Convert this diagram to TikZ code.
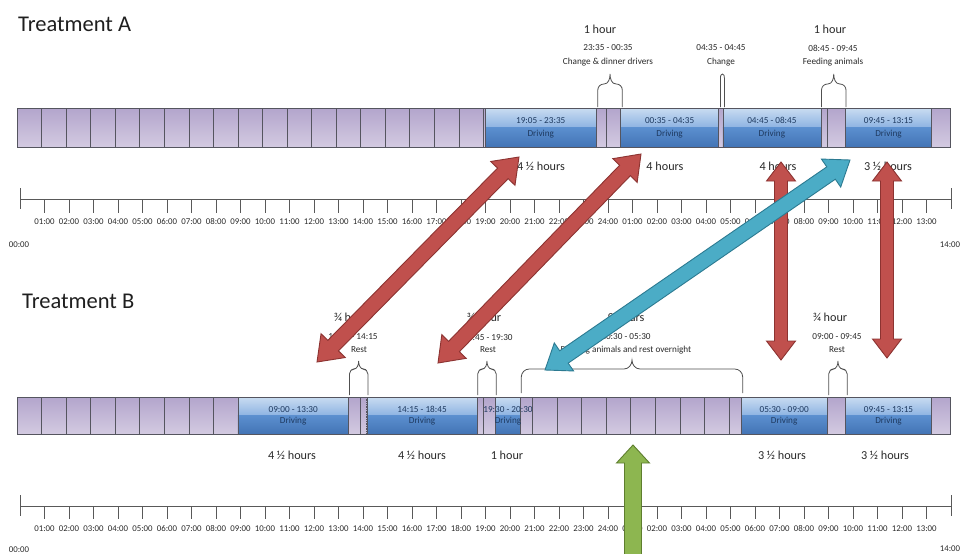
\documentclass[tikz,border=0pt]{standalone}
\usepackage{fontspec}
\setmainfont{Carlito}
\usetikzlibrary{calc}
\definecolor{lavtop}{HTML}{B3A5CC}
\definecolor{lavbot}{HTML}{D3CAE1}
\definecolor{cellline}{HTML}{55555F}
\definecolor{drvA}{HTML}{C9DCF1}
\definecolor{drvB}{HTML}{8DB3E2}
\definecolor{drvC}{HTML}{5B8FCF}
\definecolor{drvD}{HTML}{4374B5}
\definecolor{drvtxt}{HTML}{1F3A60}
\definecolor{redF}{HTML}{C0504D}
\definecolor{redD}{HTML}{8C3331}
\definecolor{bluF}{HTML}{4BACC6}
\definecolor{bluD}{HTML}{2C7A91}
\definecolor{grnF}{HTML}{8DB650}
\definecolor{grnD}{HTML}{5E7E2E}
\definecolor{txtg}{HTML}{2A2A2A}
\definecolor{bracecol}{HTML}{505050}

\newcommand{\hxpos}[1]{17+24.55*#1}
% drive box: name, h1, h2, ytop, ybot, time text
\newcommand{\drvbox}[6]{%
  \path[shade, top color=drvA, bottom color=drvB] ({\hxpos{#2}},#4) rectangle ({\hxpos{#3}},{(#4+#5)/2});
  \path[shade, top color=drvC, bottom color=drvD] ({\hxpos{#2}},{(#4+#5)/2}) rectangle ({\hxpos{#3}},#5);
  \draw[cellline, line width=0.5pt] ({\hxpos{#2}},#4) rectangle ({\hxpos{#3}},#5);
  \node[drvlbl] (#1t) at ({(\hxpos{#2}+\hxpos{#3})/2},{#4+12.5}) {#6};
  \node[drvlbl] (#1d) at ({(\hxpos{#2}+\hxpos{#3})/2},{#5-12.5}) {Driving};
}
% arch brace: xl, xr, ybottom, ycorner, radius, peak height
\newcommand{\archbrace}[6]{%
  \pgfmathsetmacro{\abXm}{(#1+#2)/2}%
  \pgfmathsetmacro{\abXa}{#1+#5}%
  \pgfmathsetmacro{\abXb}{\abXm-#5}%
  \pgfmathsetmacro{\abXc}{\abXm+#5}%
  \pgfmathsetmacro{\abXd}{#2-#5}%
  \pgfmathsetmacro{\abYs}{#4+#5}%
  \pgfmathsetmacro{\abYp}{#4-#6}%
  \draw[bracestyle] (#1,#3) -- (#1,\abYs) to[out=90,in=180] (\abXa,#4)
    -- (\abXb,#4) to[out=0,in=-90] (\abXm,\abYp)
    to[out=-90,in=180] (\abXc,#4) -- (\abXd,#4)
    to[out=0,in=90] (#2,\abYs) -- (#2,#3);
}
% double-headed block arrow: style, from, to, shaft half, head half, head length
\newcommand{\blockarr}[6]{%
  \draw[#1] (#2) -- ($(#2)!#6!(#3)!#5!90:(#3)$) -- ($(#2)!#6!(#3)!#4!90:(#3)$)
    -- ($(#3)!#6!(#2)!#4!-90:(#2)$) -- ($(#3)!#6!(#2)!#5!-90:(#2)$) -- (#3)
    -- ($(#3)!#6!(#2)!#5!90:(#2)$) -- ($(#3)!#6!(#2)!#4!90:(#2)$)
    -- ($(#2)!#6!(#3)!#4!-90:(#3)$) -- ($(#2)!#6!(#3)!#5!-90:(#3)$) -- cycle;
}
% single-headed block arrow: style, tip, tail, shaft half, head half, head length
\newcommand{\singlearr}[6]{%
  \draw[#1] (#2) -- ($(#2)!#6!(#3)!#5!90:(#3)$) -- ($(#2)!#6!(#3)!#4!90:(#3)$)
    -- ($(#3)!#4!-90:(#2)$) -- ($(#3)!#4!90:(#2)$)
    -- ($(#2)!#6!(#3)!#4!-90:(#3)$) -- ($(#2)!#6!(#3)!#5!-90:(#3)$) -- cycle;
}

\begin{document}
\begin{tikzpicture}[x=1pt,y=-1pt,
  titlelbl/.style={font=\fontsize{22.5}{25}\selectfont, text=black!88, inner sep=0pt},
  hourlbl/.style={font=\fontsize{12.2}{14}\selectfont, text=txtg, inner sep=0pt},
  smalllbl/.style={font=\fontsize{9.2}{11}\selectfont, text=txtg, inner sep=0pt},
  drvlbl/.style={font=\fontsize{9.2}{11}\selectfont, text=drvtxt, inner sep=0pt},
  ticklbl/.style={font=\fontsize{8.8}{10}\selectfont, text=txtg, inner sep=0pt},
  purplecell/.style={shade, top color=lavtop, bottom color=lavbot},
  cellline/.style={draw=cellline, line width=0.7pt},
  bracestyle/.style={draw=bracecol, line width=0.8pt},
  tl/.style={draw=black!65, line width=0.7pt},
  redarrow/.style={fill=redF, draw=redD, line width=0.9pt, line join=miter},
  bluearrow/.style={fill=bluF, draw=bluD, line width=0.9pt, line join=miter},
  greenarrow/.style={fill=grnF, draw=grnD, line width=0.9pt, line join=miter}]

\useasboundingbox (0,0) rectangle (962,554);
\fill[white] (0,0) rectangle (962,554);

% ---------- titles
\node[titlelbl, anchor=base west] (titleA) at (18,31) {Treatment A};
\node[titlelbl, anchor=base west] (titleB) at (22,308) {Treatment B};

% ---------- bar A
\path[purplecell] ({\hxpos{0}},108) rectangle ({\hxpos{38}},147);
\drvbox{dA1}{19.0833}{23.5833}{108}{147}{19:05 - 23:35}
\drvbox{dA2}{24.5833}{28.5833}{108}{147}{00:35 - 04:35}
\drvbox{dA3}{28.75}{32.75}{108}{147}{04:45 - 08:45}
\drvbox{dA4}{33.75}{37.25}{108}{147}{09:45 - 13:15}
\foreach \h in {1,...,19,24,33}
  \draw[cellline] ({\hxpos{\h}},108) -- ({\hxpos{\h}},147);
\draw[cellline] ({\hxpos{0}},108) rectangle ({\hxpos{38}},147);

% braces A
\archbrace{597.8}{622.3}{107}{84}{6}{10}
\draw[bracestyle] (720.4,107) -- (720.4,78) to[out=90,in=180] (722.4,74) to[out=0,in=90] (724.4,78) -- (724.4,107);
\archbrace{821.5}{846.0}{107}{84}{6}{10}

% labels above A
\node[hourlbl] (hA1) at (600,29) {1 hour};
\node[smalllbl] (tA1) at (608,48) {23:35 - 00:35};
\node[smalllbl] (nA1) at (608,62) {Change \& dinner drivers};
\node[smalllbl] (tA2) at (721,48) {04:35 - 04:45};
\node[smalllbl] (nA2) at (721,62) {Change};
\node[hourlbl] (hA2) at (830,29) {1 hour};
\node[smalllbl] (tA3) at (833,48) {08:45 - 09:45};
\node[smalllbl] (nA3) at (833,62) {Feeding animals};

% labels below A
\node[hourlbl] (dur1) at (541,166) {4 ½ hours};
\node[hourlbl] (dur2) at (665,166) {4 hours};
\node[hourlbl] (dur3) at (778,166) {4 hours};
\node[hourlbl] (dur4) at (888,166) {3 ½ hours};

% ---------- timeline A
\draw[tl] (20,199) coordinate (tlA0) -- (951,199) coordinate (tlA1);
\draw[tl] (20,188) -- (20,209);
\draw[tl] (951,188) -- (951,209);
\foreach \h in {1,...,37}{
  \draw[tl] ({20+24.5*\h},199) -- ({20+24.5*\h},213);
  \pgfmathtruncatemacro{\lab}{\h>24 ? \h-24 : \h}
  \node[ticklbl] (tka\h) at ({20+24.5*\h},222) {\ifnum\lab<10 0\fi\lab:00};
}
\node[ticklbl] (tkaS) at (19,245) {00:00};
\node[ticklbl] (tkaE) at (950,245) {14:00};

% ---------- bar B
\path[purplecell] ({\hxpos{0}},397) rectangle ({\hxpos{38}},434);
\drvbox{dB1}{9}{13.5}{397}{434}{09:00 - 13:30}
\drvbox{dB2}{14.25}{18.75}{397}{434}{14:15 - 18:45}
\drvbox{dB3}{19.5}{20.5}{397}{434}{19:30 - 20:30}
\drvbox{dB4}{29.5}{33}{397}{434}{05:30 - 09:00}
\drvbox{dB5}{33.75}{37.25}{397}{434}{09:45 - 13:15}
\foreach \h in {1,...,8,14,19,21,22,...,29}
  \draw[cellline] ({\hxpos{\h}},397) -- ({\hxpos{\h}},434);
\draw[cellline, densely dotted] ({\hxpos{14.25}},397) -- ({\hxpos{14.25}},434);
\draw[cellline, densely dotted] ({\hxpos{18.75}},397) -- ({\hxpos{18.75}},434);
\draw[cellline] ({\hxpos{0}},397) rectangle ({\hxpos{38}},434);

% braces B
\archbrace{349.4}{367.9}{395}{369}{5}{8}
\archbrace{477.7}{496.2}{395}{369}{5}{8}
\archbrace{521.3}{742.7}{393}{369}{8}{9}
\archbrace{828.7}{847.2}{395}{369}{5}{8}

% labels above B
\node[hourlbl] (hB1) at (351,317) {¾ hour};
\node[smalllbl] (tB1) at (353,337) {13:30 - 14:15};
\node[smalllbl] (nB1) at (359,350) {Rest};
\node[hourlbl] (hB2) at (484,317) {¾ hour};
\node[smalllbl] (tB2) at (488,337) {18:45 - 19:30};
\node[smalllbl] (nB2) at (488,350) {Rest};
\node[hourlbl] (hB3) at (626,317) {9 hours};
\node[smalllbl] (tB3) at (626,337) {20:30 - 05:30};
\node[smalllbl] (nB3) at (626,350) {Feeding animals and rest overnight};
\node[hourlbl] (hB4) at (830,317) {¾ hour};
\node[smalllbl] (tB4) at (837,337) {09:00 - 09:45};
\node[smalllbl] (nB4) at (837,350) {Rest};

% labels below B
\node[hourlbl] (durB1) at (292,455) {4 ½ hours};
\node[hourlbl] (durB2) at (422,455) {4 ½ hours};
\node[hourlbl] (durB3) at (507,455) {1 hour};
\node[hourlbl] (durB4) at (782,455) {3 ½ hours};
\node[hourlbl] (durB5) at (885,455) {3 ½ hours};

% ---------- timeline B
\draw[tl] (20,506) coordinate (tlB0) -- (951,506) coordinate (tlB1);
\draw[tl] (20,495) -- (20,516);
\draw[tl] (951,495) -- (951,516);
\foreach \h in {1,...,37}{
  \draw[tl] ({20+24.5*\h},506) -- ({20+24.5*\h},519);
  \pgfmathtruncatemacro{\lab}{\h>24 ? \h-24 : \h}
  \node[ticklbl] (tkb\h) at ({20+24.5*\h},529) {\ifnum\lab<10 0\fi\lab:00};
}
\node[ticklbl] (tkbS) at (19,550) {00:00};
\node[ticklbl] (tkbE) at (950,549) {14:00};

% ---------- arrows
\coordinate (r1a) at (317,362);
\coordinate (r1b) at (519,157);
\coordinate (r2a) at (438,363);
\coordinate (r2b) at (641,154);
\coordinate (r3a) at (781,162);
\coordinate (r3b) at (781,360);
\coordinate (r4a) at (887,162);
\coordinate (r4b) at (887,358);
\coordinate (b1a) at (545,370);
\coordinate (b1b) at (850,160);
\coordinate (g1tip) at (633,445);
\coordinate (g1tail) at (633,600);

\blockarr{redarrow}{r1a}{r1b}{7.5pt}{17pt}{23pt}
\blockarr{redarrow}{r2a}{r2b}{7.5pt}{17pt}{23pt}
\blockarr{redarrow}{r3a}{r3b}{6.5pt}{14.5pt}{19pt}
\blockarr{redarrow}{r4a}{r4b}{6.5pt}{14.5pt}{19pt}
\blockarr{bluearrow}{b1a}{b1b}{7.5pt}{17pt}{23pt}
\begin{scope}
  \clip (0,0) rectangle (962,554);
  \singlearr{greenarrow}{g1tip}{g1tail}{8.5pt}{16.5pt}{18pt}
\end{scope}

\end{tikzpicture}
\end{document}
